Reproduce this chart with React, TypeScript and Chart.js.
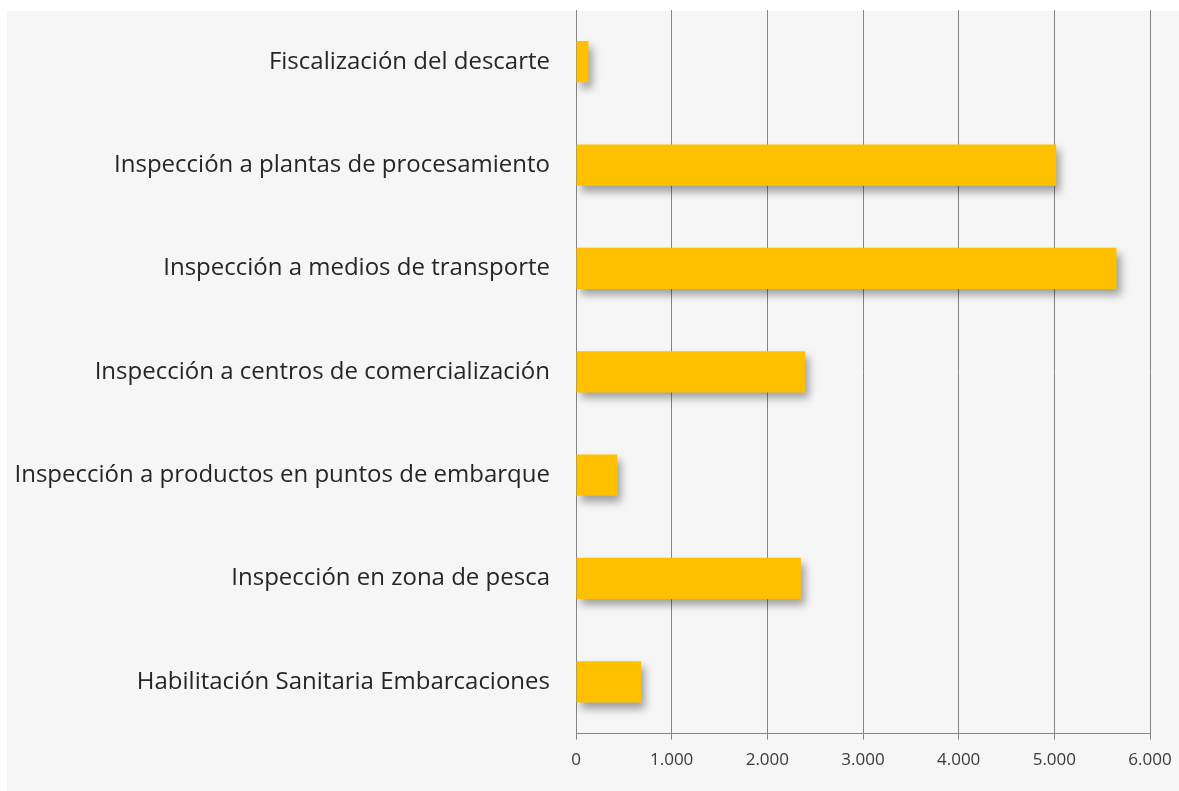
import React, { useEffect, useRef } from "react";
import { Chart, registerables } from "chart.js";

Chart.register(...registerables);

const categories = [
  "Fiscalización del descarte",
  "Inspección a plantas de procesamiento",
  "Inspección a medios de transporte",
  "Inspección a centros de comercialización",
  "Inspección a productos en puntos de embarque",
  "Inspección en zona de pesca",
  "Habilitación Sanitaria Embarcaciones",
];
const values = [130, 5020, 5650, 2395, 430, 2350, 680];
const xTicks = [0, 1000, 2000, 3000, 4000, 5000, 6000];

const fmt = (v: number) => String(v).replace(/\B(?=(\d{3})+(?!\d))/g, ".");

const panelPlugin = {
  id: "panel",
  beforeDraw(chart: any) {
    const { ctx, width, height } = chart;
    ctx.save();
    ctx.fillStyle = "#ffffff";
    ctx.fillRect(0, 0, width, height);
    ctx.fillStyle = "#f6f6f6";
    ctx.fillRect(7, 11, width - 7, height - 11);
    ctx.restore();
  },
};

const shadowPlugin = {
  id: "barShadow",
  beforeDatasetsDraw(chart: any) {
    const ctx = chart.ctx;
    ctx.save();
    ctx.shadowColor = "rgba(0,0,0,0.35)";
    ctx.shadowBlur = 8;
    ctx.shadowOffsetX = 4;
    ctx.shadowOffsetY = 6;
  },
  afterDatasetsDraw(chart: any) {
    chart.ctx.restore();
  },
};

export default function App() {
  const ref = useRef<HTMLCanvasElement | null>(null);
  useEffect(() => {
    document.body.style.margin = "0";
    const chart = new Chart(ref.current as HTMLCanvasElement, {
      type: "bar",
      data: {
        labels: categories,
        datasets: [
          {
            data: values,
            backgroundColor: "#ffc000",
            borderWidth: 0,
            barPercentage: 0.4,
            categoryPercentage: 1,
          },
        ],
      },
      options: {
        indexAxis: "y",
        animation: false,
        responsive: false,
        maintainAspectRatio: false,
        layout: { padding: { top: 10, right: 29, bottom: 11, left: 0 } },
        plugins: {
          legend: { display: false },
          tooltip: { enabled: false },
        },
        scales: {
          x: {
            min: 0,
            max: 6000,
            afterBuildTicks: (scale: any) => {
              scale.ticks = xTicks.map((v) => ({ value: v }));
            },
            afterFit: (scale: any) => {
              scale.paddingLeft = 0;
              scale.paddingRight = 0;
            },
            ticks: {
              callback: (v: any) => fmt(Number(v)),
              color: "#3a3a3a",
              font: { family: "Open Sans", size: 17 },
              padding: 10,
              maxRotation: 0,
            },
            grid: {
              color: "#858585",
              lineWidth: 1,
              drawTicks: true,
              tickLength: 6,
            },
            border: { display: true, color: "#858585" },
          },
          y: {
            afterFit: (scale: any) => {
              scale.width = 576;
              scale.paddingTop = 0;
              scale.paddingBottom = 0;
            },
            ticks: {
              color: "#262626",
              font: { family: "Open Sans", size: 24 },
              padding: 26,
            },
            grid: { display: false, drawTicks: false },
            border: { display: true, color: "#858585" },
          },
        },
      },
      plugins: [panelPlugin, shadowPlugin],
    } as any);
    return () => chart.destroy();
  }, []);
  return (
    <div style={{ position: "fixed", left: 0, top: 0, width: 1179, height: 791 }}>
      <canvas ref={ref} width={1179} height={791} style={{ width: 1179, height: 791 }} />
    </div>
  );
}
